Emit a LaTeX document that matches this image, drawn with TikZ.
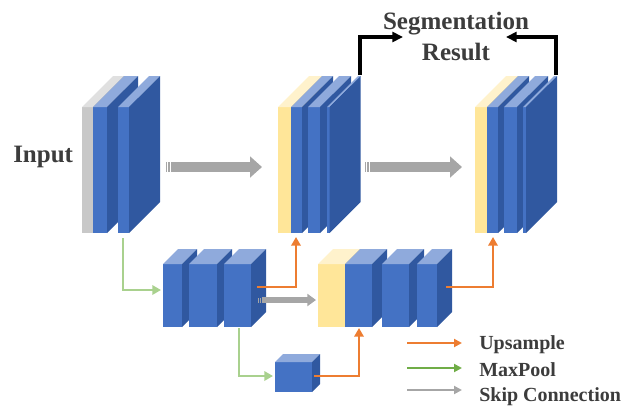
\documentclass[tikz,border=0pt]{standalone}
\usepackage{fontspec}
\setmainfont{Liberation Serif}
\usetikzlibrary{arrows.meta}

\definecolor{bluefront}{HTML}{4472C4}
\definecolor{bluetop}{HTML}{8FAADC}
\definecolor{blueside}{HTML}{3058A0}
\definecolor{yelfront}{HTML}{FFE699}
\definecolor{yeltop}{HTML}{FFF2CC}
\definecolor{yelside}{HTML}{F2D27A}
\definecolor{gryfront}{HTML}{C8C8C8}
\definecolor{grytop}{HTML}{E0E0E0}
\definecolor{gryside}{HTML}{A8A8A8}
\definecolor{uporange}{HTML}{ED7D31}
\definecolor{poolgreen}{HTML}{A9D18E}
\definecolor{keygreen}{HTML}{70AD47}
\definecolor{skipgray}{HTML}{A6A6A6}
\definecolor{txtgray}{HTML}{3C3C3C}

% one slab: x left, x right, y top, y bottom, depth, colour set
\newcommand{\drawslab}[6]{%
  \fill[#6front] (#1,#3) rectangle (#2,#4);
  \fill[#6top] (#1,#3) -- (#2,#3) -- (#2+#5,#3-#5) -- (#1+#5,#3-#5) -- cycle;
  \fill[#6side] (#2,#3) -- (#2,#4) -- (#2+#5,#4-#5) -- (#2+#5,#3-#5) -- cycle;
}

\begin{document}
\begin{tikzpicture}[
    x = 0.75pt, y = -0.75pt,
    title/.style = {inner sep = 0pt, text = txtgray, font = \bfseries\fontsize{18.75}{22}\selectfont},
    key/.style = {inner sep = 0pt, text = txtgray, font = \bfseries\fontsize{15}{18}\selectfont},
    up/.style = {draw = uporange, line width = 2.2pt, -{Triangle[length = 6.5pt, width = 7pt]}},
    pool/.style = {draw = poolgreen, line width = 2.2pt, -{Triangle[length = 6.5pt, width = 7pt]}},
    skip/.style = {draw = skipgray, line width = 3.8pt, -{Triangle[length = 6.5pt, width = 9pt]}},
    bigskip/.style = {draw = skipgray, line width = 8pt, -{Triangle[length = 9pt, width = 15.5pt]}},
    res/.style = {draw = black, line width = 2.6pt, -{Triangle[length = 8pt, width = 7.5pt]}},
    keyarr/.style = {line width = 1.7pt, -{Triangle[length = 6pt, width = 6pt]}},
  ]
  \useasboundingbox (0,0) rectangle (626,411);

  % upper row
  \drawslab{82}{93}{107}{233}{31}{gry}
  \drawslab{93}{107}{107}{233}{31}{blue}
  \drawslab{118}{129}{107}{233}{31}{blue}

  \drawslab{278}{291}{107}{233}{31}{yel}
  \drawslab{291}{302}{107}{233}{31}{blue}
  \drawslab{308}{320}{107}{233}{31}{blue}
  \drawslab{327}{329.5}{107}{233}{31}{blue}

  \drawslab{475}{487}{107}{233}{31}{yel}
  \drawslab{487}{498}{107}{233}{31}{blue}
  \drawslab{504}{517}{107}{233}{31}{blue}
  \drawslab{523}{526}{107}{233}{31}{blue}

  % middle row
  \drawslab{163}{182}{264}{327}{15}{blue}
  \drawslab{189}{217}{264}{327}{15}{blue}
  \drawslab{224}{251}{264}{327}{15}{blue}

  \drawslab{318}{345}{264}{327}{15}{yel}
  \drawslab{345}{372}{264}{327}{15}{blue}
  \drawslab{382}{409}{264}{327}{15}{blue}
  \drawslab{417}{437}{264}{327}{15}{blue}

  % bottom
  \drawslab{275}{312}{362}{392}{8}{blue}

  % texts
  \node (seg) [title, anchor = base] at (456,29) {Segmentation};
  \node (result) [title, anchor = base] at (456,60) {Result};
  \node (input) [title, anchor = base west] at (13,162) {Input};

  % arrow ends
  \coordinate (e1b) at (123,238);
  \coordinate (e2w) at (161,290);
  \coordinate (e2b) at (239,328);
  \coordinate (cubew) at (273,376);
  \coordinate (e2up) at (257,287);
  \coordinate (d1b) at (296,237);
  \coordinate (cubee) at (314,376);
  \coordinate (d3b) at (359,328);
  \coordinate (d3e) at (446,287);
  \coordinate (d2b) at (493,237);
  \coordinate (skipa) at (262,300);
  \coordinate (skipb) at (316,300);
  \coordinate (biga) at (171,167);
  \coordinate (bigb) at (262,167);
  \coordinate (bigc) at (370,167);
  \coordinate (bigd) at (462,167);
  \coordinate (d1t) at (360,75);
  \coordinate (segw) at (403,37);
  \coordinate (d2t) at (556,75);
  \coordinate (sege) at (506,37);

  \path[pool] (e1b) |- (e2w);
  \path[pool] (e2b) |- (cubew);
  \path[up] (e2up) -| (d1b);
  \path[up] (cubee) -| (d3b);
  \path[up] (d3e) -| (d2b);

  \path[skip] (skipa) -- (skipb);
  \fill[skipgray] (257.5,297.5) rectangle (258.7,302.5);
  \fill[skipgray] (259.7,297.5) rectangle (260.9,302.5);
  \path[bigskip] (biga) -- (bigb);
  \fill[skipgray] (166,161.7) rectangle (167.4,172.3);
  \fill[skipgray] (168.3,161.7) rectangle (169.7,172.3);
  \path[bigskip] (bigc) -- (bigd);
  \fill[skipgray] (365,161.7) rectangle (366.4,172.3);
  \fill[skipgray] (367.3,161.7) rectangle (368.7,172.3);

  \path[res] (d1t) |- (segw);
  \path[res] (d2t) |- (sege);

  % legend
  \coordinate (k1a) at (407,343);
  \coordinate (k1b) at (462,343);
  \coordinate (k2a) at (407,368);
  \coordinate (k2b) at (462,368);
  \coordinate (k3a) at (407,390);
  \coordinate (k3b) at (462,390);
  \path[keyarr, draw = uporange] (k1a) -- (k1b);
  \path[keyarr, draw = keygreen] (k2a) -- (k2b);
  \path[keyarr, draw = skipgray] (k3a) -- (k3b);
  \node (kup) [key, anchor = base west] at (479,349) {Upsample};
  \node (kpool) [key, anchor = base west] at (479,376) {MaxPool};
  \node (kskip) [key, anchor = base west] at (479,401) {Skip Connection};
\end{tikzpicture}
\end{document}
